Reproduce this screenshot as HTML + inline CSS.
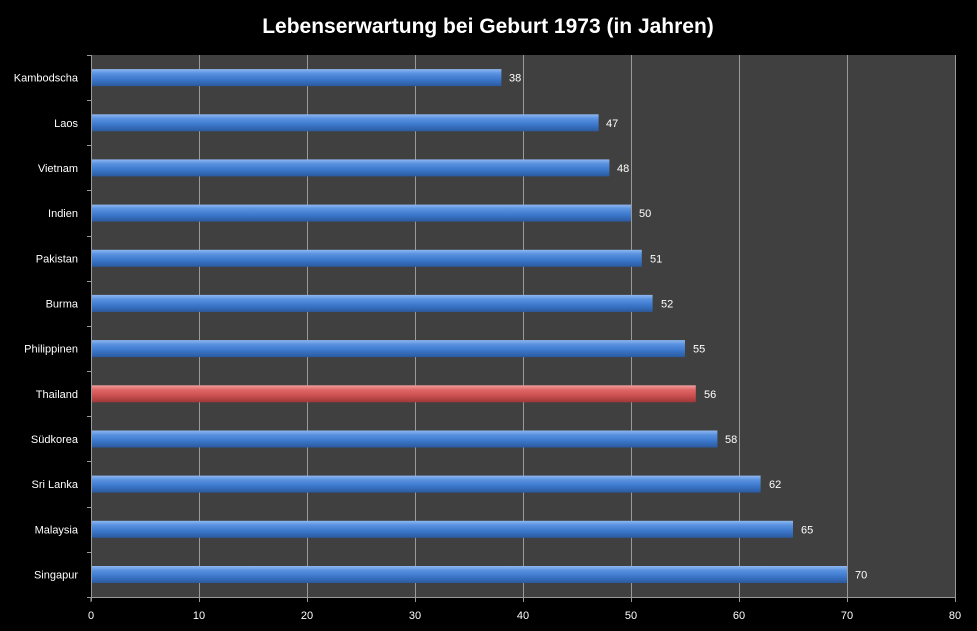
<!DOCTYPE html>
<html><head><meta charset="utf-8"><style>body{margin:0;background:#000}svg{display:block}</style></head><body>
<svg width="977" height="631" xmlns="http://www.w3.org/2000/svg" font-family="Liberation Sans, sans-serif">
<defs>
<linearGradient id="b" x1="0" y1="0" x2="0" y2="1">
<stop offset="0" stop-color="#8fb8f0"/><stop offset="0.25" stop-color="#5a92e0"/><stop offset="0.6" stop-color="#3c78cc"/><stop offset="1" stop-color="#2a5a9e"/></linearGradient>
<linearGradient id="r" x1="0" y1="0" x2="0" y2="1">
<stop offset="0" stop-color="#f0a0a0"/><stop offset="0.25" stop-color="#e06868"/><stop offset="0.6" stop-color="#cc5050"/><stop offset="1" stop-color="#9e3838"/></linearGradient>
</defs>
<rect width="977" height="631" fill="#000"/>
<text x="488" y="33" fill="#fff" font-size="21" font-weight="bold" text-anchor="middle">Lebenserwartung bei Geburt 1973 (in Jahren)</text>
<rect x="91" y="55" width="864" height="542" fill="#404040"/>
<g stroke="#9a9a9a" stroke-width="1">
<line x1="199.5" y1="55" x2="199.5" y2="597"/><line x1="307.5" y1="55" x2="307.5" y2="597"/><line x1="415.5" y1="55" x2="415.5" y2="597"/><line x1="523.5" y1="55" x2="523.5" y2="597"/><line x1="631.5" y1="55" x2="631.5" y2="597"/><line x1="739.5" y1="55" x2="739.5" y2="597"/><line x1="847.5" y1="55" x2="847.5" y2="597"/><line x1="955.5" y1="55" x2="955.5" y2="597"/>
<line x1="91.5" y1="55" x2="91.5" y2="601"/><line x1="91" y1="597.5" x2="956" y2="597.5"/>
</g>
<g stroke="#9a9a9a">
<path d="M91 602v-4M199.5 602v-4M307.5 602v-4M415.5 602v-4M523.5 602v-4M631.5 602v-4M739.5 602v-4M847.5 602v-4M955.5 602v-4"/>
<path d="M87 55.5h4M87 100.5h4M87 145.5h4M87 190.5h4M87 236.5h4M87 281.5h4M87 326.5h4M87 371.5h4M87 416.5h4M87 461.5h4M87 507.5h4M87 552.5h4M87 597.5h4"/>
</g>
<g fill="#fff" font-size="11" text-anchor="middle">
<text x="91" y="619">0</text><text x="199" y="619">10</text><text x="307" y="619">20</text><text x="415" y="619">30</text><text x="523" y="619">40</text><text x="631" y="619">50</text><text x="739" y="619">60</text><text x="847" y="619">70</text><text x="955" y="619">80</text>
</g>
<g fill="url(#b)">
<rect x="92" y="69.1" width="409.4" height="17"/>
<rect x="92" y="114.3" width="506.6" height="17"/>
<rect x="92" y="159.4" width="517.4" height="17"/>
<rect x="92" y="204.6" width="539" height="17"/>
<rect x="92" y="249.8" width="549.8" height="17"/>
<rect x="92" y="294.9" width="560.6" height="17"/>
<rect x="92" y="340.1" width="593" height="17"/>
<rect x="92" y="385.3" width="603.8" height="17" fill="url(#r)"/>
<rect x="92" y="430.5" width="625.4" height="17"/>
<rect x="92" y="475.6" width="668.6" height="17"/>
<rect x="92" y="520.8" width="701" height="17"/>
<rect x="92" y="566" width="755" height="17"/>
</g>
<g fill="#fff" font-size="11" text-anchor="end">
<text x="78" y="81.6">Kambodscha</text>
<text x="78" y="126.8">Laos</text>
<text x="78" y="171.9">Vietnam</text>
<text x="78" y="217.1">Indien</text>
<text x="78" y="262.3">Pakistan</text>
<text x="78" y="307.4">Burma</text>
<text x="78" y="352.6">Philippinen</text>
<text x="78" y="397.8">Thailand</text>
<text x="78" y="443">Südkorea</text>
<text x="78" y="488.1">Sri Lanka</text>
<text x="78" y="533.3">Malaysia</text>
<text x="78" y="578.5">Singapur</text>
</g>
<g fill="#fff" font-size="11">
<text x="509" y="81.6">38</text>
<text x="606" y="126.8">47</text>
<text x="617" y="171.9">48</text>
<text x="639" y="217.1">50</text>
<text x="650" y="262.3">51</text>
<text x="661" y="307.4">52</text>
<text x="693" y="352.6">55</text>
<text x="704" y="397.8">56</text>
<text x="725" y="443">58</text>
<text x="769" y="488.1">62</text>
<text x="801" y="533.3">65</text>
<text x="855" y="578.5">70</text>
</g>
</svg>
</body></html>
